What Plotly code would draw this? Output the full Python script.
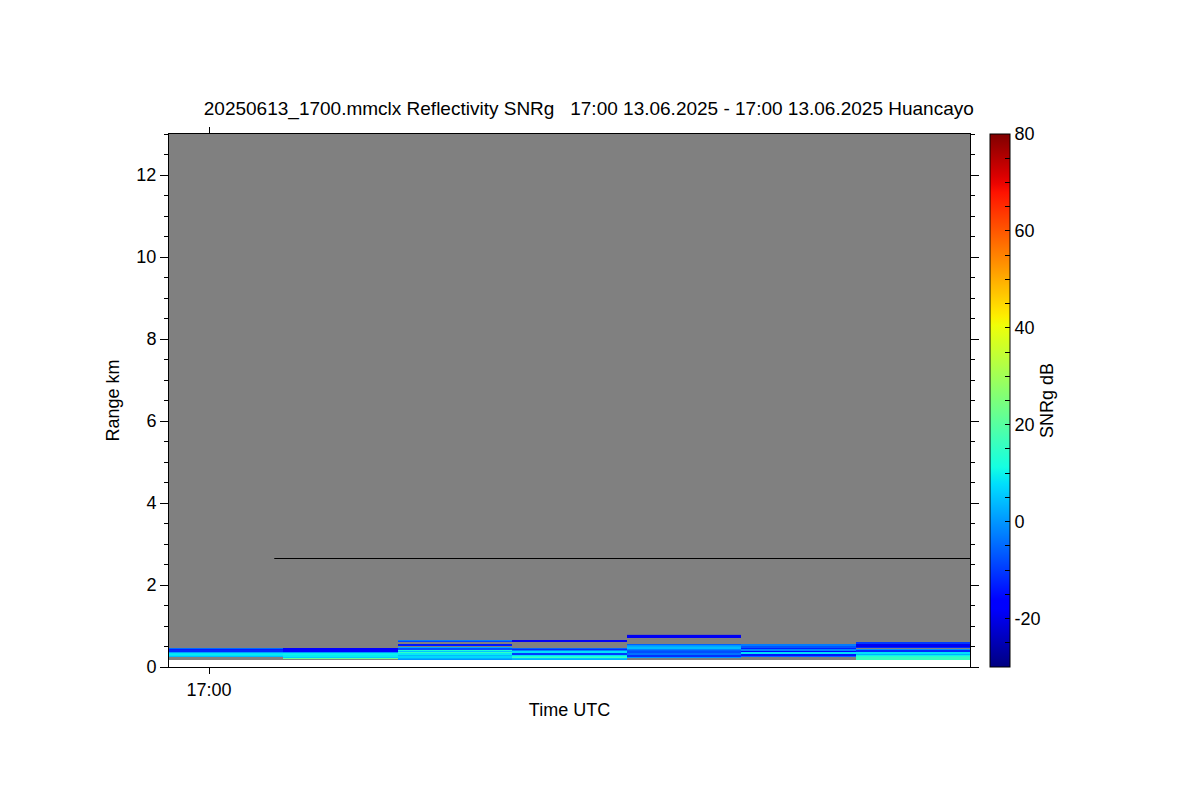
import plotly.graph_objects as go

# ---- data ----
# time axis: seconds relative to 17:00:00 UTC, edges of the 7 profiles
time_edges_s = [-3.5, 6.5, 16.5, 26.5, 36.5, 46.5, 56.5, 66.5]
time_tick_vals = [0]
time_tick_text = ["17:00"]

# range gates (km) : bottom edge and gate size
gate_bottom_km = 0.16
gate_size_km = 0.024
n_gates = 26
range_top_km = 13.0

N = None
# SNRg (dB) per profile, listed from the lowest gate upward
profile_1 = [N, N, N, N, 4, 8, 9, 8, 1, -12, -12, -13, -5, N, N, N, N, N, N, N, N, N, N, N, N, N]
profile_2 = [N, N, 22, 6, 9, 9, 10, 9, 0, -17, -18, -18, -17, N, N, N, N, N, N, N, N, N, N, N, N, N]
profile_3 = [N, 0, 3, 7, 7, 4, 9, 9, 15, 5, 12, -8, -8, 2, N, -14, -14, N, N, -9, -3, N, N, N, N, N]
profile_4 = [N, 3, 5, 16, 12, 8, -10, -10, 8, 8, -2, -12, -6, N, N, N, N, N, N, -19, -19, N, N, N, N, N]
profile_5 = [N, N, N, 0, -11, -11, -4, -4, -8, -8, -6, -2, 4, 4, 2, 0, -6, N, N, N, N, N, N, -19, -19, -19]
profile_6 = [N, N, N, N, -5, -14, -14, 8, 8, -18, -2, -2, -13, -7, -7, -3, -3, N, N, N, N, N, N, N, N, N]
profile_7 = [N, 16, 16, 16, 14, 10, 3, 8, 8, -12, -12, -1, N, -12, -19, -19, -19, -10, -10, N, N, N, N, N, N, N]

# horizontal marker line
marker_times_s = [5.7, 66.5]
marker_range_km = [2.646, 2.646]

snr_min, snr_max = -30, 80
cbar_tick_vals = list(range(-30, 81, 5))
cbar_tick_text = [str(v) if v in (-20, 0, 20, 40, 60, 80) else "" for v in cbar_tick_vals]

# ---- jet colormap (matplotlib definition) ----
def _interp(segs, f):
    for (x0, v0), (x1, v1) in zip(segs[:-1], segs[1:]):
        if x0 <= f <= x1:
            return v0 if x1 == x0 else v0 + (v1 - v0) * (f - x0) / (x1 - x0)
    return segs[-1][1]

_r = [(0, 0), (0.35, 0), (0.66, 1), (0.89, 1), (1, 0.5)]
_g = [(0, 0), (0.125, 0), (0.375, 1), (0.64, 1), (0.91, 0), (1, 0)]
_b = [(0, 0.5), (0.11, 1), (0.34, 1), (0.65, 0), (1, 0)]
jet = []
for k in range(65):
    f = k / 64
    jet.append([f, "rgb(%d,%d,%d)" % (round(255 * _interp(_r, f)),
                                      round(255 * _interp(_g, f)),
                                      round(255 * _interp(_b, f)))])

profiles = [profile_1, profile_2, profile_3, profile_4, profile_5, profile_6, profile_7]
gate_edges = [gate_bottom_km + gate_size_km * i for i in range(n_gates + 1)]
z = [[p[i] for p in profiles] for i in range(n_gates)]

FONT = "Liberation Sans, Arial, Helvetica, sans-serif"

fig = go.Figure()
# no-data (grey) field
fig.add_trace(go.Heatmap(
    x=time_edges_s, y=[gate_bottom_km, range_top_km],
    z=[[0] * len(profiles)],
    colorscale=[[0, "#808080"], [1, "#808080"]],
    showscale=False, hoverinfo="skip"))
fig.add_trace(go.Heatmap(
    x=time_edges_s, y=gate_edges, z=z,
    zmin=snr_min, zmax=snr_max, colorscale=jet,
    colorbar=dict(
        title=dict(text="SNRg dB", side="right", font=dict(size=18, color="black")),
        x=1.025, xanchor="left", xpad=0, y=0, yanchor="bottom", ypad=0,
        len=1, lenmode="fraction",
        thickness=20, outlinewidth=1, outlinecolor="black",
        tickvals=cbar_tick_vals, ticktext=cbar_tick_text,
        ticks="inside", ticklen=5, tickcolor="black",
        tickfont=dict(size=18, color="black")),
))
fig.add_trace(go.Scatter(
    x=marker_times_s, y=marker_range_km, mode="lines",
    line=dict(color="black", width=1), showlegend=False, hoverinfo="skip"))

fig.update_layout(
    width=1200, height=800,
    margin=dict(l=161, r=238, t=126, b=141),
    paper_bgcolor="white", plot_bgcolor="white",
    font=dict(family=FONT, size=18, color="black"),
    title=dict(text="20250613_1700.mmclx Reflectivity SNRg   17:00 13.06.2025 - 17:00 13.06.2025 Huancayo",
               x=0.484, xanchor="center", y=0.874, yanchor="middle",
               font=dict(size=19, color="black")),
    showlegend=False,
)
fig.update_xaxes(
    range=[time_edges_s[0], time_edges_s[-1]],
    tickvals=time_tick_vals, ticktext=time_tick_text,
    ticks="outside", ticklen=6, tickcolor="black",
    showline=True, linecolor="black", linewidth=1, mirror="ticks",
    showgrid=False, zeroline=False,
    title=dict(text="Time UTC", standoff=4, font=dict(size=18)),
)
fig.update_yaxes(
    range=[0, range_top_km],
    tickvals=[0, 2, 4, 6, 8, 10, 12],
    ticks="outside", ticklen=8, tickcolor="black",
    minor=dict(dtick=0.5, ticks="outside", ticklen=4, tickcolor="black", showgrid=False),
    showline=True, linecolor="black", linewidth=1, mirror="ticks",
    showgrid=False, zeroline=False,
    title=dict(text="Range km", standoff=12, font=dict(size=18)),
)

fig.write_html("out.html")
